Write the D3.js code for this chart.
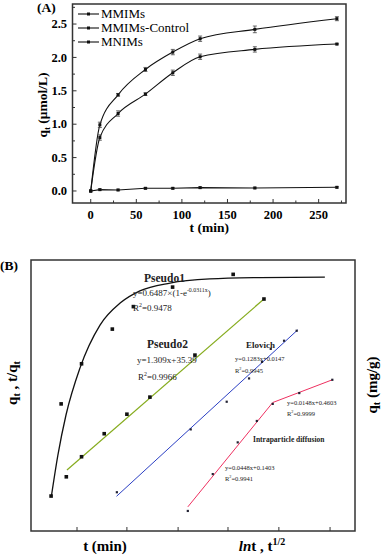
<!DOCTYPE html>
<html><head><meta charset="utf-8">
<script src="https://cdn.jsdelivr.net/npm/d3@7"></script>
<style>body{margin:0;background:#fff}svg{display:block}</style>
</head><body><svg id="c" width="382" height="555" font-family="'Liberation Serif', 'DejaVu Serif', serif"></svg>
<script>
// ---------- Panel A data ----------
const timeA = [0, 10, 30, 60, 90, 120, 180, 270];
const seriesNames = ["MMIMs", "MMIMs-Control", "MNIMs"];
const mmims = [0, 0.99, 1.44, 1.82, 2.08, 2.28, 2.42, 2.58];
const mmimsErr = [0, 0.04, 0.02, 0.03, 0.04, 0.04, 0.05, 0.03];
const control = [0, 0.80, 1.16, 1.45, 1.77, 2.01, 2.12, 2.20];
const controlErr = [0, 0.04, 0.04, 0.02, 0.04, 0.04, 0.04, 0.01];
const mnims = [0, 0.02, 0.015, 0.04, 0.04, 0.05, 0.045, 0.055];
const mnimsErr = [0, 0.01, 0.01, 0.01, 0.01, 0.01, 0.01, 0.01];
const xTicksA = [0, 50, 100, 150, 200, 250];
const yTicksA = [0.0, 0.5, 1.0, 1.5, 2.0, 2.5];

// ---------- Panel B data (relative plot units, 0-100) ----------
const p1X = [6.2, 9.3, 15.6, 25.1, 31.6, 43.7, 62.4];
const p1Y = [12.9, 46.9, 61.7, 74.5, 82.8, 90.0, 94.7];
const p1FitX = [6.3, 8.3, 10.8, 15.1, 21.3, 27.5, 33.6, 42.9, 55.2, 70.7, 90.7];
const p1FitY = [12.9, 28.0, 42.8, 60.1, 76.0, 84.1, 88.6, 91.5, 93.0, 93.5, 93.7];
const p2X = [10.9, 15.6, 22.6, 29.6, 36.7, 50.6, 71.9];
const p2Y = [20.0, 27.4, 35.9, 43.1, 49.4, 64.9, 85.6];
const p2FitX = [11.1, 71.9];
const p2FitY = [22.5, 85.6];
const elX = [26.5, 49.3, 60.4, 67.3, 71.3, 74.0, 78.1, 82.0];
const elY = [14.3, 37.5, 47.7, 56.3, 62.4, 67.2, 70.2, 73.9];
const elFitX = [26.4, 82.3];
const elFitY = [12.8, 74.2];
const ipX = [48.4, 56.1, 63.8, 69.7, 74.6, 82.8, 93.0];
const ipY = [7.4, 21.0, 32.7, 40.6, 46.9, 50.9, 55.8];
const ipFitX = [48.4, 74.6, 93.0];
const ipFitY = [8.9, 47.4, 55.8];
const xTicksB = [14.2, 29.6, 45.4, 60.8, 76.5, 92.3];

const svg = d3.select("#c");
const frameCol = "#333";

// ================= Panel A =================
const xA = d3.scaleLinear().domain([-20, 280]).range([72.5, 346]);
const yA = d3.scaleLinear().domain([-0.18, 2.8]).range([203, 4]);
const gA = svg.append("g");
gA.append("rect").attr("x", xA(-20)).attr("y", yA(2.8)).attr("width", xA(280) - xA(-20))
  .attr("height", yA(-0.18) - yA(2.8)).attr("fill", "none").attr("stroke", frameCol).attr("stroke-width", 1.5);

const xMinorA = d3.range(0, 276, 25);
xMinorA.forEach(v => {
  const major = v % 50 === 0;
  gA.append("line").attr("x1", xA(v)).attr("x2", xA(v)).attr("y1", yA(-0.18)).attr("y2", yA(-0.18) - (major ? 4 : 2.5))
    .attr("stroke", frameCol).attr("stroke-width", 1);
});
xTicksA.forEach(v => {
  gA.append("text").attr("x", xA(v)).attr("y", 218.5).attr("text-anchor", "middle")
    .attr("font-size", 12.5).attr("font-weight", "bold").text(v);
});
const yMinorA = d3.range(0, 2.76, 0.25);
yMinorA.forEach(v => {
  const major = Math.abs(v * 2 - Math.round(v * 2)) < 1e-6;
  gA.append("line").attr("x1", xA(-20)).attr("x2", xA(-20) + (major ? 4 : 2.5)).attr("y1", yA(v)).attr("y2", yA(v))
    .attr("stroke", frameCol).attr("stroke-width", 1);
});
yTicksA.forEach(v => {
  gA.append("text").attr("x", 67).attr("y", yA(v) + 4.2).attr("text-anchor", "end")
    .attr("font-size", 12.5).attr("font-weight", "bold").text(v.toFixed(1));
});
gA.append("text").attr("x", xA(130)).attr("y", 232).attr("text-anchor", "middle")
  .attr("font-size", 13.5).attr("font-weight", "bold").text("t (min)");
const yl = gA.append("text").attr("transform", "translate(47,105) rotate(-90)").attr("text-anchor", "middle")
  .attr("font-size", 13.5).attr("font-weight", "bold");
yl.append("tspan").text("q");
yl.append("tspan").attr("font-size", 9).attr("dy", 3).text("t");
yl.append("tspan").attr("dy", -3).text(" (μmol/L)");
gA.append("text").attr("x", 37).attr("y", 12).attr("font-size", 13.5).attr("font-weight", "bold").text("(A)");

const dataA = [
  {vals: mmims, err: mmimsErr, curve: d3.curveMonotoneX},
  {vals: control, err: controlErr, curve: d3.curveMonotoneX},
  {vals: mnims, err: mnimsErr, curve: d3.curveLinear}
];
dataA.forEach(s => {
  const pts = timeA.map((t, i) => [t, s.vals[i], s.err[i]]);
  gA.append("path").datum(pts).attr("fill", "none").attr("stroke", "#111").attr("stroke-width", 1.1)
    .attr("d", d3.line().x(d => xA(d[0])).y(d => yA(d[1])).curve(s.curve));
  pts.forEach(d => {
    if (d[2] > 0) {
      const y1 = yA(d[1] - d[2]), y2 = yA(d[1] + d[2]);
      gA.append("line").attr("x1", xA(d[0])).attr("x2", xA(d[0])).attr("y1", y1).attr("y2", y2).attr("stroke", "#444").attr("stroke-width", 0.8);
      [y1, y2].forEach(yy => gA.append("line").attr("x1", xA(d[0]) - 2).attr("x2", xA(d[0]) + 2).attr("y1", yy).attr("y2", yy).attr("stroke", "#444").attr("stroke-width", 0.8));
    }
    gA.append("rect").attr("x", xA(d[0]) - 1.5).attr("y", yA(d[1]) - 1.5).attr("width", 3).attr("height", 3).attr("fill", "#111");
  });
});
seriesNames.forEach((n, i) => {
  const ly = 14 + i * 14;
  gA.append("line").attr("x1", 78).attr("x2", 99).attr("y1", ly).attr("y2", ly).attr("stroke", "#111").attr("stroke-width", 1.1);
  gA.append("rect").attr("x", 87).attr("y", ly - 1.5).attr("width", 3).attr("height", 3).attr("fill", "#111");
  gA.append("text").attr("x", 101).attr("y", ly + 4.3).attr("font-size", 13).text(n);
});

// ================= Panel B =================
const xB = d3.scaleLinear().domain([0, 100]).range([31, 355]);
const yB = d3.scaleLinear().domain([0, 100]).range([531, 260]);
const gB = svg.append("g");
gB.append("rect").attr("x", xB(0)).attr("y", yB(100)).attr("width", xB(100) - xB(0)).attr("height", yB(0) - yB(100))
  .attr("fill", "none").attr("stroke", frameCol).attr("stroke-width", 1.5);
xTicksB.forEach(v => gB.append("line").attr("x1", xB(v)).attr("x2", xB(v)).attr("y1", yB(0)).attr("y2", yB(0) - 4)
  .attr("stroke", frameCol).attr("stroke-width", 1));

const zip = (a, b) => a.map((v, i) => [v, b[i]]);
const mkLine = c => d3.line().x(d => xB(d[0])).y(d => yB(d[1])).curve(c);
gB.append("path").datum(zip(p1FitX, p1FitY)).attr("fill", "none").attr("stroke", "#111").attr("stroke-width", 1.3)
  .attr("d", mkLine(d3.curveMonotoneX));
gB.append("path").datum(zip(p2FitX, p2FitY)).attr("fill", "none").attr("stroke", "#86ac1e").attr("stroke-width", 1.2)
  .attr("d", mkLine(d3.curveLinear));
gB.append("path").datum(zip(elFitX, elFitY)).attr("fill", "none").attr("stroke", "#2b3fc4").attr("stroke-width", 1)
  .attr("d", mkLine(d3.curveLinear));
gB.append("path").datum(zip(ipFitX, ipFitY)).attr("fill", "none").attr("stroke", "#ee3060").attr("stroke-width", 1)
  .attr("d", mkLine(d3.curveLinear));

zip(p1X, p1Y).concat(zip(p2X, p2Y)).forEach(d => gB.append("rect").attr("x", xB(d[0]) - 1.8).attr("y", yB(d[1]) - 1.8)
  .attr("width", 3.6).attr("height", 3.6).attr("fill", "#111"));
zip(elX, elY).concat(zip(ipX, ipY)).forEach(d => gB.append("rect").attr("x", xB(d[0]) - 1.1).attr("y", yB(d[1]) - 1.1)
  .attr("width", 2.2).attr("height", 2.2).attr("fill", "#223"));

function txt(x, y, size, bold, parts) {
  const t = gB.append("text").attr("x", x).attr("y", y).attr("font-size", size).attr("fill", "#222");
  if (bold) t.attr("font-weight", "bold");
  parts.forEach(p => {
    const s = t.append("tspan").text(p.t);
    if (p.sup) s.attr("font-size", size * 0.65).attr("dy", -size * 0.4);
    if (p.down) s.attr("dy", size * 0.4);
  });
  return t;
}
txt(144, 282, 11.5, true, [{t: "Pseudo1"}]);
txt(133, 296, 9, false, [{t: "y=0.6487×(1-e"}, {t: "-0.0311x", sup: true}, {t: ")", down: true}]);
txt(133, 311, 9, false, [{t: "R"}, {t: "2", sup: true}, {t: "=0.9478", down: true}]);
txt(147, 348, 11.5, true, [{t: "Pseudo2"}]);
txt(137, 363, 9, false, [{t: "y=1.309x+35.39"}]);
txt(138, 380, 9, false, [{t: "R"}, {t: "2", sup: true}, {t: "=0.9966", down: true}]);
txt(246, 348, 9, true, [{t: "Elovich"}]);
txt(235, 360.5, 6.5, false, [{t: "y=0.1283x+0.0147"}]);
txt(235, 373, 6.5, false, [{t: "R"}, {t: "2", sup: true}, {t: "=0.9945", down: true}]);
txt(287, 404.5, 6.5, false, [{t: "y=0.0148x+0.4603"}]);
txt(287, 416, 6.5, false, [{t: "R"}, {t: "2", sup: true}, {t: "=0.9999", down: true}]);
txt(253, 441.5, 7.5, true, [{t: "Intraparticle diffusion"}]);
txt(225, 469.5, 6.5, false, [{t: "y=0.0448x+0.1403"}]);
txt(225, 480.5, 6.5, false, [{t: "R"}, {t: "2", sup: true}, {t: "=0.9941", down: true}]);

svg.append("text").attr("x", 0).attr("y", 270).attr("font-size", 13.5).attr("font-weight", "bold").text("(B)");
svg.append("text").attr("x", 105).attr("y", 551).attr("text-anchor", "middle").attr("font-size", 15).attr("font-weight", "bold").text("t (min)");
const xl2 = svg.append("text").attr("x", 262).attr("y", 551).attr("text-anchor", "middle").attr("font-size", 15).attr("font-weight", "bold");
xl2.append("tspan").attr("font-style", "italic").text("ln");
xl2.append("tspan").text("t , t");
xl2.append("tspan").attr("font-size", 10).attr("dy", -6).text("1/2");
const lyl = svg.append("text").attr("transform", "translate(17,383) rotate(-90)").attr("text-anchor", "middle")
  .attr("font-size", 15).attr("font-weight", "bold");
lyl.append("tspan").text("q");
lyl.append("tspan").attr("font-size", 10).attr("dy", 3).text("t");
lyl.append("tspan").attr("dy", -3).text(" , t/q");
lyl.append("tspan").attr("font-size", 10).attr("dy", 3).text("t");
const ryl = svg.append("text").attr("transform", "translate(377,385) rotate(-90)").attr("text-anchor", "middle")
  .attr("font-size", 15).attr("font-weight", "bold");
ryl.append("tspan").text("q");
ryl.append("tspan").attr("font-size", 10).attr("dy", 3).text("t");
ryl.append("tspan").attr("dy", -3).text(" (mg/g)");
</script></body></html>
